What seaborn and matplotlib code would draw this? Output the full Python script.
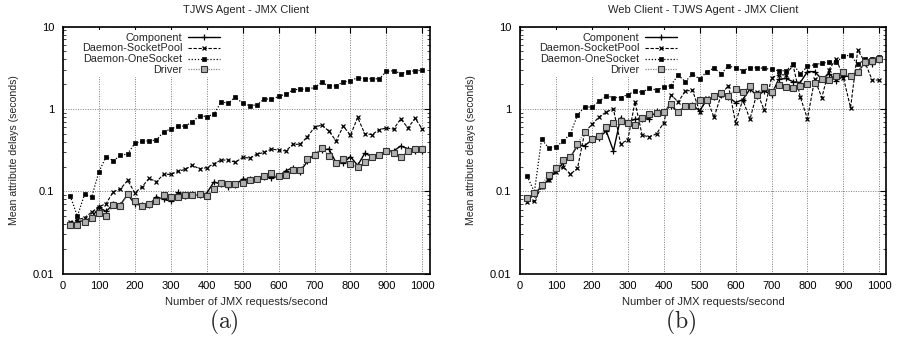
import numpy as np
import pandas as pd
import matplotlib
matplotlib.use("Agg")
import matplotlib.pyplot as plt
import matplotlib.ticker as mticker
import seaborn as sns

# ---------------- data ----------------
x_rate = [20, 40, 60, 80, 100, 120, 140, 160, 180, 200,
          220, 240, 260, 280, 300, 320, 340, 360, 380, 400,
          420, 440, 460, 480, 500, 520, 540, 560, 580, 600,
          620, 640, 660, 680, 700, 720, 740, 760, 780, 800,
          820, 840, 860, 880, 900, 920, 940, 960, 980, 1000]

series_names = ["Component", "Daemon-SocketPool", "Daemon-OneSocket", "Driver"]
panel_titles = ["TJWS Agent - JMX Client", "Web Client - TJWS Agent - JMX Client"]
panel_captions = ["(a)", "(b)"]

a_component = [0.039, 0.043, 0.044, 0.048, 0.064, 0.057, 0.070, 0.069, 0.092, 0.070,
               0.068, 0.068, 0.086, 0.080, 0.076, 0.097, 0.088, 0.092, 0.090, 0.095,
               0.130, 0.122, 0.114, 0.121, 0.141, 0.140, 0.140, 0.150, 0.146, 0.152,
               0.178, 0.194, 0.174, 0.231, 0.286, 0.316, 0.327, 0.224, 0.222, 0.264,
               0.207, 0.290, 0.264, 0.280, 0.310, 0.310, 0.355, 0.330, 0.305, 0.305]
a_pool = [0.042, 0.045, 0.048, 0.056, 0.065, 0.071, 0.099, 0.107, 0.136, 0.096,
          0.114, 0.144, 0.131, 0.161, 0.161, 0.175, 0.185, 0.207, 0.188, 0.194,
          0.217, 0.240, 0.240, 0.226, 0.259, 0.254, 0.284, 0.297, 0.327, 0.317,
          0.310, 0.373, 0.373, 0.460, 0.600, 0.640, 0.540, 0.410, 0.620, 0.480,
          0.790, 0.500, 0.490, 0.560, 0.590, 0.570, 0.760, 0.590, 0.770, 0.570]
a_one = [0.088, 0.050, 0.092, 0.086, 0.173, 0.264, 0.236, 0.273, 0.286, 0.383,
         0.405, 0.410, 0.420, 0.530, 0.570, 0.620, 0.620, 0.700, 0.830, 0.810,
         0.860, 1.220, 1.180, 1.400, 1.170, 1.100, 1.120, 1.330, 1.310, 1.420,
         1.520, 1.700, 1.750, 1.730, 1.830, 2.110, 1.900, 1.920, 2.130, 2.200,
         2.410, 2.320, 2.340, 2.320, 2.860, 2.920, 2.700, 2.840, 2.920, 2.950]
a_driver = [0.0385, 0.039, 0.042, 0.048, 0.054, 0.050, 0.068, 0.066, 0.092, 0.076,
            0.066, 0.071, 0.076, 0.090, 0.085, 0.086, 0.091, 0.090, 0.092, 0.088,
            0.108, 0.127, 0.123, 0.124, 0.125, 0.139, 0.140, 0.154, 0.165, 0.152,
            0.160, 0.184, 0.182, 0.250, 0.275, 0.340, 0.270, 0.224, 0.246, 0.215,
            0.197, 0.225, 0.264, 0.274, 0.305, 0.290, 0.260, 0.310, 0.330, 0.325]

b_component = [0.078, 0.092, 0.115, 0.140, 0.180, 0.220, 0.260, 0.360, 0.360, 0.420,
               0.450, 0.540, 0.310, 0.780, 0.700, 0.750, 0.760, 0.760, 0.950, 0.930,
               1.100, 0.920, 1.080, 1.120, 0.950, 1.300, 1.400, 1.500, 1.400, 1.200,
               1.300, 1.750, 1.450, 1.650, 1.500, 2.300, 2.350, 2.150, 2.100, 2.850,
               2.850, 2.300, 2.700, 2.200, 2.500, 2.500, 2.850, 3.600, 3.500, 3.900]
b_pool = [0.075, 0.076, 0.114, 0.137, 0.173, 0.200, 0.162, 0.190, 0.520, 0.650,
          0.800, 0.920, 1.000, 0.380, 0.420, 1.220, 0.480, 0.460, 0.500, 0.680,
          1.500, 1.220, 1.650, 1.700, 0.930, 1.350, 0.790, 1.500, 1.930, 0.680,
          1.300, 0.750, 1.600, 0.960, 2.400, 2.600, 2.600, 3.400, 1.400, 0.760,
          2.300, 1.380, 3.000, 4.100, 2.400, 1.040, 5.200, 3.700, 2.250, 2.250]
b_one = [0.153, 0.098, 0.430, 0.336, 0.350, 0.405, 0.500, 0.840, 1.070, 1.050,
         1.240, 1.440, 1.380, 1.380, 1.500, 1.650, 1.600, 1.790, 1.700, 1.830,
         1.930, 2.590, 2.150, 2.660, 2.310, 2.850, 3.120, 2.700, 3.330, 3.180,
         2.920, 3.180, 3.180, 3.120, 3.030, 2.920, 2.920, 3.500, 2.660, 3.300,
         3.450, 3.600, 3.700, 3.700, 4.400, 4.500, 3.500, 4.000, 4.100, 4.300]
b_driver = [0.082, 0.095, 0.120, 0.160, 0.190, 0.240, 0.260, 0.380, 0.530, 0.430,
            0.470, 0.600, 0.680, 0.720, 0.680, 0.640, 0.780, 0.860, 0.900, 0.920,
            1.150, 0.930, 1.100, 1.100, 1.300, 1.300, 1.420, 1.550, 1.450, 1.750,
            1.600, 1.900, 1.500, 1.850, 1.600, 1.950, 1.850, 1.800, 1.900, 2.000,
            2.050, 2.300, 2.250, 2.500, 2.800, 2.500, 2.800, 3.700, 3.800, 4.000]

x_ticks = [0, 100, 200, 300, 400, 500, 600, 700, 800, 900, 1000]
y_ticks = [0.01, 0.1, 1, 10]

panels = [
    {"Component": a_component, "Daemon-SocketPool": a_pool,
     "Daemon-OneSocket": a_one, "Driver": a_driver},
    {"Component": b_component, "Daemon-SocketPool": b_pool,
     "Daemon-OneSocket": b_one, "Driver": b_driver},
]

# ---------------- styles ----------------
styles = {
    "Component": dict(color="black", linestyle="-", linewidth=1.0, marker="+",
                      markersize=4, markeredgecolor="black", markeredgewidth=0.9),
    "Daemon-SocketPool": dict(color="black", linestyle=(0, (3, 1.5)), linewidth=0.8,
                              marker="x", markersize=3.5, markeredgecolor="black",
                              markeredgewidth=0.9),
    "Daemon-OneSocket": dict(color="black", linestyle=(0, (1, 1.5)), linewidth=0.9,
                             marker="s", markersize=3.2, markerfacecolor="black",
                             markeredgecolor="black", markeredgewidth=0.5),
    "Driver": dict(color="#8a8a8a", linestyle=(0, (1, 1)), linewidth=0.9,
                   marker="s", markersize=4.5, markerfacecolor="#b0b0b0",
                   markeredgecolor="#333333", markeredgewidth=0.8),
}

sns.set_theme(style="white")
plt.rcParams["font.family"] = ["Liberation Sans", "DejaVu Sans"]
plt.rcParams["mathtext.fontset"] = "cm"

fig = plt.figure(figsize=(9.0, 3.37), dpi=100)
ax_w = 366.5 / 900
ax_h = 247 / 337
ax_b = (337 - 273.7) / 337
lefts = [63 / 900, 520 / 900]

for i, data in enumerate(panels):
    ax = fig.add_axes([lefts[i], ax_b, ax_w, ax_h])
    for name in series_names:
        df = pd.DataFrame({"rate": x_rate, "delay": data[name]})
        sns.lineplot(data=df, x="rate", y="delay", ax=ax, label=name,
                     zorder=3, **styles[name])
    ax.set_yscale("log")
    ax.set_xlim(0, 1020)
    ax.set_ylim(0.01, 10)
    ax.set_xticks(x_ticks)
    ax.set_yticks(y_ticks)
    ax.yaxis.set_major_formatter(mticker.FuncFormatter(lambda v, p: "%g" % v))
    ax.yaxis.set_minor_locator(mticker.LogLocator(base=10, subs=np.arange(2, 10)))
    ax.yaxis.set_minor_formatter(mticker.NullFormatter())
    ax.tick_params(axis="both", which="major", direction="in", top=True, right=True,
                   length=4, width=0.8, labelsize=8, colors="black")
    ax.tick_params(axis="x", which="major", pad=5)
    ax.tick_params(axis="y", which="major", pad=6.5)
    ax.tick_params(axis="y", which="minor", direction="in", left=True, right=True,
                   length=2, width=0.6)
    for s in ax.spines.values():
        s.set_color("black")
        s.set_linewidth(1.2)
    ax.set_axisbelow(True)
    ax.grid(True, which="major", axis="both", color="#7a7a7a",
            linestyle=(0, (1, 1.5)), linewidth=0.7)
    ax.grid(False, which="minor")
    ax.set_xlabel("Number of JMX requests/second", fontsize=8, labelpad=4.5)
    ax.set_ylabel("Mean attribute delays (seconds)", fontsize=7.6, labelpad=10)
    ax.set_title(panel_titles[i], fontsize=8, pad=10)

    leg = ax.legend(loc="upper right", bbox_to_anchor=(0.434, 0.985),
                    markerfirst=False, frameon=True, facecolor="white",
                    edgecolor="none", framealpha=1, fancybox=False,
                    fontsize=7.8, handlelength=2.9, handletextpad=0.55,
                    labelspacing=0.08, borderpad=0.2, borderaxespad=0,
                    numpoints=1)
    leg.set_zorder(1)

    cx = 0.249 if i == 0 else 0.756
    fig.text(cx, 0.042, r"$\mathrm{%s}$" % panel_captions[i], fontsize=17,
             ha="center", va="center")

fig.savefig("out.png", dpi=100)
